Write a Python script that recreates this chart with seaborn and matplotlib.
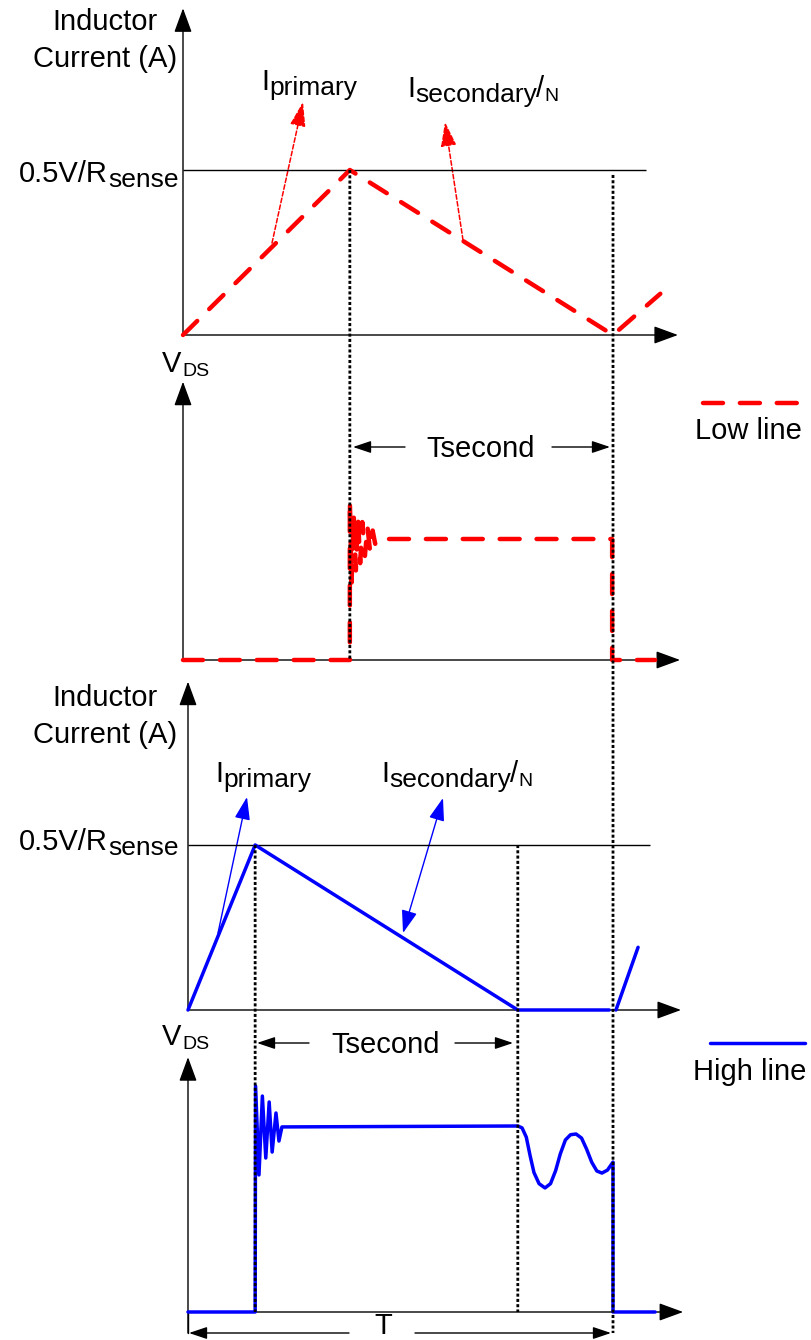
import matplotlib
matplotlib.use("Agg")
import matplotlib.pyplot as plt
from matplotlib.patches import ConnectionPatch
import seaborn as sns

# time in units of the switching period T, amplitude normalised to the plateau level

# low line: inductor current
low_i_t = [0.0, 0.388, 1.0, 1.11]
low_i_v = [0.0, 1.0, 0.0, 0.25]

# low line: VDS (with turn-off ringing)
low_v_t = [0.0, 0.388, 0.388, 0.392, 0.397, 0.402, 0.407, 0.412, 0.417, 0.423,
           0.429, 0.435, 0.441, 0.447, 0.452, 0.998, 0.998, 1.098]
low_v_v = [0.0, 0.0, 1.32, 0.64, 1.20, 0.74, 1.18, 0.80, 1.14, 0.86,
           1.10, 0.90, 1.07, 0.96, 1.0, 1.0, 0.0, 0.0]

# high line: inductor current (two pieces, next cycle starts after T)
high_i_t = [0.0, 0.158, 0.776, 0.991]
high_i_v = [0.0, 1.0, 0.0, 0.0]
high_i2_t = [1.007, 1.059]
high_i2_v = [0.0, 0.38]

# high line: VDS (ringing at turn-off, valley ringing after demagnetisation)
high_v_t = [0.0, 0.158, 0.159, 0.167, 0.175, 0.183, 0.191, 0.198, 0.207, 0.214, 0.221,
            0.776, 0.786, 0.796, 0.805, 0.814, 0.826, 0.840, 0.853, 0.865, 0.876,
            0.888, 0.900, 0.913, 0.926, 0.938, 0.950, 0.962, 0.974, 0.987, 1.0,
            1.0, 1.099]
high_v_v = [0.0, 0.0, 1.215, 0.737, 1.161, 0.828, 1.129, 0.860, 1.070, 0.919, 0.995,
            1.0, 0.99, 0.94, 0.84, 0.75, 0.69, 0.667, 0.69, 0.76, 0.85,
            0.925, 0.953, 0.957, 0.935, 0.875, 0.805, 0.758, 0.747, 0.763, 0.806,
            0.0, 0.0]

low_t_on = 0.388
high_t_on = 0.158
high_t_zero = 0.776
period = 1.0

W, H = 812, 1340
RED = "#ff0000"
BLUE = "#0000ff"

sns.set_style("white")
plt.rcParams["font.family"] = ["Liberation Sans", "DejaVu Sans"]

fig = plt.figure(figsize=(W / 100, H / 100), dpi=100)

# overlay in pixel units for labels
ov = fig.add_axes([0, 0, 1, 1], label="overlay")
ov.set_xlim(0, W)
ov.set_ylim(H, 0)
ov.axis("off")


def panel(name, x0, y0, sx, sy):
    # origin of the panel at pixel (x0, y0), one unit = sx / sy pixels
    ax = fig.add_axes([0, 0, 1, 1], label=name)
    ax.set_xlim(-x0 / sx, (W - x0) / sx)
    ax.set_ylim(-(H - y0) / sy, y0 / sy)
    ax.axis("off")
    ax.patch.set_alpha(0)
    return ax


ax1 = panel("low_i", 183, 335, 430, 165)
ax2 = panel("low_v", 183, 660, 430, 121)
ax3 = panel("high_i", 188, 1010, 425, 165)
ax4 = panel("high_v", 188, 1312, 425, 186)

axis_arrow = dict(arrowstyle="-|>,head_length=15,head_width=5.5", color="black",
                  lw=1.0, shrinkA=0, shrinkB=0, mutation_scale=1)


def draw_axes(ax, xtip, ytip, ybot=0.0):
    ax.annotate("", xy=(0, ytip), xytext=(0, ybot), arrowprops=axis_arrow)
    ax.annotate("", xy=(xtip, 0), xytext=(0, 0), arrowprops=axis_arrow)


draw_axes(ax1, 1.151, 1.98)
draw_axes(ax2, 1.156, 2.30)
draw_axes(ax3, 1.16, 1.99)
draw_axes(ax4, 1.165, 1.37, ybot=-0.113)

# 0.5V/Rsense level
ax1.hlines(1.0, 0, 1.077, color="black", lw=1.0)
ax3.hlines(1.0, 0, 1.087, color="black", lw=1.0)


# dotted guides between panels
def guide(axA, xyA, axB, xyB):
    con = ConnectionPatch(xyA=xyA, coordsA="data", axesA=axA,
                          xyB=xyB, coordsB="data", axesB=axB,
                          color="black", lw=2.0, linestyle=(0, (1.1, 0.8)),
                          capstyle="butt")
    fig.add_artist(con)


guide(ax1, (low_t_on, 1.0), ax2, (low_t_on, 0.0))
guide(ax1, (period, 0.97), ax4, (period, -0.113))
guide(ax3, (high_t_on, 1.0), ax4, (high_t_on, 0.0))
guide(ax3, (high_t_zero, 1.0), ax4, (high_t_zero, 0.0))

# waveforms
red_kw = dict(color=RED, lw=3.2, linestyle=(0, (4.5, 3.8)), dash_capstyle="round",
              sort=False, estimator=None, legend=False, zorder=5)
blue_kw = dict(color=BLUE, lw=2.5, sort=False, estimator=None, legend=False, zorder=5)

sns.lineplot(x=low_i_t, y=low_i_v, ax=ax1, **red_kw)
sns.lineplot(x=low_v_t, y=low_v_v, ax=ax2, **red_kw)
sns.lineplot(x=high_i_t, y=high_i_v, ax=ax3, **blue_kw)
sns.lineplot(x=high_i2_t, y=high_i2_v, ax=ax3, **blue_kw)
sns.lineplot(x=high_v_t, y=high_v_v, ax=ax4, **blue_kw)
for ax in (ax1, ax2, ax3, ax4):
    ax.set_xlabel("")
    ax.set_ylabel("")


# ---- text and annotations (pixel coordinates) ----
def txt(x, y, s, size=21, ha="left", va="baseline"):
    ov.text(x, y, s, fontsize=size, ha=ha, va=va, color="black")


for top in (0, 676):
    txt(105, 30 + top, "Inductor", ha="center")
    txt(105, 67 + top, "Current (A)", ha="center")

txt(108, 182, "0.5V/R", ha="right")
txt(108, 187, "sense", size=19)
txt(108, 850, "0.5V/R", ha="right")
txt(108, 855, "sense", size=19)

txt(261, 90, "I")
txt(269, 95, "primary", size=19)
txt(407, 97, "I")
txt(415, 102, "secondary", size=19)
txt(536, 97, "/")
txt(544, 101, "N", size=14)

txt(215, 782, "I")
txt(223, 787, "primary", size=19)
txt(381, 782, "I")
txt(389, 787, "secondary", size=19)
txt(510, 782, "/")
txt(518, 786, "N", size=14)

txt(181, 372, "V", ha="right")
txt(182, 376, "DS", size=14)
txt(181, 1045, "V", ha="right")
txt(182, 1049, "DS", size=14)

txt(481, 457, "Tsecond", ha="center")
txt(386, 1053, "Tsecond", ha="center")
txt(383, 1340, "T", ha="center", va="bottom")

dim_arrow = dict(arrowstyle="-|>,head_length=11,head_width=3.7", color="black",
                 lw=1.0, shrinkA=0, shrinkB=0, mutation_scale=1)
for base, tip in [((405, 447), (353, 447)), ((552, 447), (610, 447)),
                  ((309, 1043), (257, 1043)), ((455, 1043), (513, 1043)),
                  ((349, 1333), (189, 1333)), ((415, 1333), (611, 1333))]:
    ov.annotate("", xy=tip, xytext=base, arrowprops=dim_arrow)
ov.plot([188, 188], [1312, 1333], color="black", lw=1.0)

red_pointer = dict(arrowstyle="-|>,head_length=15,head_width=4.8", color=RED,
                   lw=1.1, linestyle=(0, (3, 1.5)), shrinkA=0, shrinkB=0,
                   mutation_scale=1)
ov.annotate("", xy=(303, 102), xytext=(272, 243), arrowprops=red_pointer)
ov.annotate("", xy=(445, 122), xytext=(463, 240), arrowprops=red_pointer)

blue_pointer = dict(arrowstyle="-|>,head_length=14,head_width=4.8", color=BLUE,
                    lw=1.0, shrinkA=0, shrinkB=0, mutation_scale=1)
ov.annotate("", xy=(247, 797), xytext=(218, 933), arrowprops=blue_pointer)
blue_double = dict(blue_pointer, arrowstyle="<|-|>,head_length=14,head_width=4.8")
ov.annotate("", xy=(443, 798), xytext=(403, 933), arrowprops=blue_double)

# legend samples
ov.plot([703, 797], [403, 403], color=RED, lw=3.2, linestyle=(0, (4.5, 3.8)),
        dash_capstyle="round")
txt(748, 439, "Low line", ha="center")
ov.plot([710, 805], [1043, 1043], color=BLUE, lw=2.5)
txt(750, 1080, "High line", ha="center")

fig.savefig("out.png", dpi=100, facecolor="white")
